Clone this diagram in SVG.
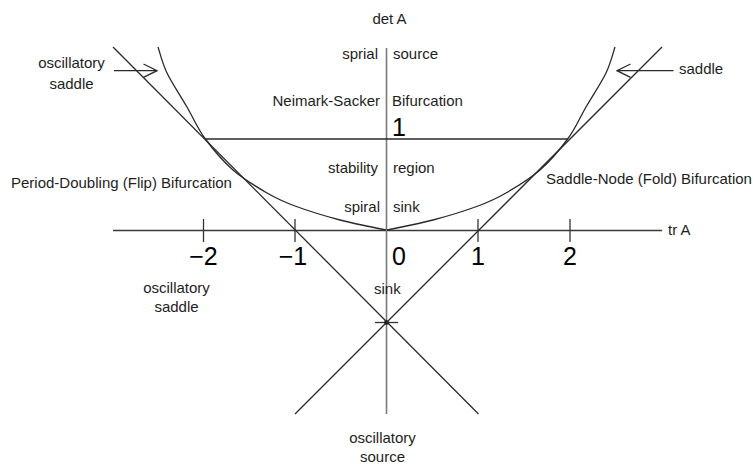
<svg xmlns="http://www.w3.org/2000/svg" xmlns:xlink="http://www.w3.org/1999/xlink" width="753" height="464" viewBox="0 0 753 464">
<style>
  .lbl { font-family: "Liberation Sans", Arial, sans-serif; font-size: 15px; fill: #1e1e1e; }
  .num { font-family: "Liberation Sans", Arial, sans-serif; font-size: 25px; fill: #000; }
  .ln { stroke: #2a2a2a; stroke-width: 1.3; fill: none; }
  .ax { stroke: #3a3a3a; stroke-width: 1.4; fill: none; }
  .vax { stroke: #7a7a7a; stroke-width: 1.6; fill: none; }
  .tick { stroke: #333; stroke-width: 1.3; }
</style>
<defs>
  <marker id="open" viewBox="0 0 15 15" refX="14" refY="7.5" markerWidth="15" markerHeight="15" markerUnits="userSpaceOnUse" orient="auto">
    <path d="M0.5,0.8 L14,7.5 L0.5,14.2" fill="none" stroke="#2a2a2a" stroke-width="1.3"/>
  </marker>
  <path id="curveL" d="M158,47 C159.5,51.3 162.2,63 167,73 C171.8,83 180.7,96.1 187,107 C193.3,117.9 197.3,128 205,138.5 C212.7,149 222.7,160.9 233,170 C243.3,179.1 256.7,187 267,193 C277.3,199 282.8,201.5 295,206 C307.2,210.5 324.8,216 340,220 C355.2,224 378.3,228.3 386,230"/>
</defs>
<rect width="753" height="464" fill="#fff"/>

<g id="axes">
  <line class="ax" x1="113" y1="230.5" x2="662" y2="230.5"/>
  <line class="vax" x1="386.5" y1="48" x2="386.5" y2="414"/>
  <line class="tick" x1="203.5" y1="219" x2="203.5" y2="242"/>
  <line class="tick" x1="295" y1="219" x2="295" y2="242"/>
  <line class="tick" x1="478" y1="219" x2="478" y2="242"/>
  <line class="tick" x1="570" y1="219" x2="570" y2="242"/>
  <line class="tick" x1="375" y1="322.5" x2="398" y2="322.5"/>
  <rect x="384.5" y="320.5" width="4" height="4" fill="#000"/>
</g>

<g id="curves">
  <use xlink:href="#curveL" class="ln"/>
  <use xlink:href="#curveL" class="ln" transform="translate(773,0) scale(-1,1)"/>
  <line class="ln" x1="205" y1="139" x2="567.5" y2="139"/>
  <line class="ln" x1="113" y1="47" x2="478.5" y2="414"/>
  <line class="ln" x1="662" y1="47" x2="295" y2="414"/>
</g>

<g id="connectors">
  <line class="ln" x1="114" y1="70.7" x2="157" y2="70.7" marker-end="url(#open)"/>
  <line class="ln" x1="673.5" y1="70.7" x2="617" y2="70.7" marker-end="url(#open)"/>
</g>

<g id="labels">
  <text class="lbl" x="389.5" y="23.5" text-anchor="middle">det A</text>
  <text class="lbl" x="378" y="58.5" text-anchor="end">sprial</text>
  <text class="lbl" x="393" y="58.5">source</text>
  <text class="lbl" x="380" y="105.5" text-anchor="end">Neimark-Sacker</text>
  <text class="lbl" x="392" y="105.5">Bifurcation</text>
  <text class="num" x="399" y="135.5" text-anchor="middle">1</text>
  <text class="lbl" x="378" y="173" text-anchor="end">stability</text>
  <text class="lbl" x="393" y="173">region</text>
  <text class="lbl" x="380" y="212" text-anchor="end">spiral</text>
  <text class="lbl" x="393" y="212">sink</text>
  <text class="lbl" x="374" y="294">sink</text>
  <text class="lbl" x="668" y="235">tr A</text>
  <text class="lbl" x="71.5" y="67.5" text-anchor="middle">oscillatory</text>
  <text class="lbl" x="71.5" y="88.5" text-anchor="middle">saddle</text>
  <text class="lbl" x="679" y="73.5">saddle</text>
  <text class="lbl" x="11" y="188">Period-Doubling (Flip) Bifurcation</text>
  <text class="lbl" x="546" y="183.5">Saddle-Node (Fold) Bifurcation</text>
  <text class="lbl" x="176.5" y="292.5" text-anchor="middle">oscillatory</text>
  <text class="lbl" x="176.5" y="312" text-anchor="middle">saddle</text>
  <text class="lbl" x="382.5" y="443" text-anchor="middle">oscillatory</text>
  <text class="lbl" x="382.5" y="462" text-anchor="middle">source</text>
  <text class="num" x="203.5" y="265" text-anchor="middle">−2</text>
  <text class="num" x="293" y="265" text-anchor="middle">−1</text>
  <text class="num" x="399" y="265" text-anchor="middle">0</text>
  <text class="num" x="478" y="265" text-anchor="middle">1</text>
  <text class="num" x="570" y="265" text-anchor="middle">2</text>
</g>
</svg>
